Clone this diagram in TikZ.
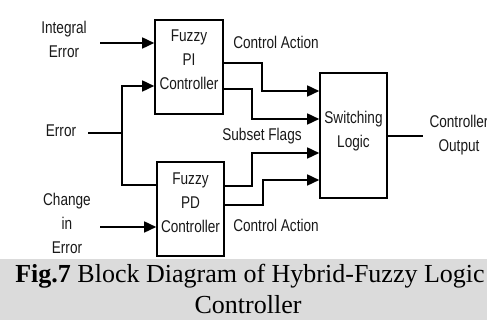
\documentclass[tikz,border=0pt]{standalone}
\usepackage{fontspec}
\setmainfont{Liberation Serif}
\newfontfamily\diagfont[FakeStretch=0.8]{Liberation Sans}
\usetikzlibrary{arrows.meta}

\begin{document}
\begin{tikzpicture}[
    x=1pt, y=-1pt,
    block/.style={rectangle, draw, line width=1.6pt, inner sep=0pt},
    txt/.style={font=\diagfont\fontsize{17}{24}\selectfont, align=center, text=black!90},
    captxt/.style={font=\fontsize{26}{32}\selectfont, anchor=base, inner sep=1pt},
    wire/.style={line width=1.6pt},
    arrow/.style={wire, -{Triangle[length=12pt, width=11pt]}}
]
\useasboundingbox (0,0) rectangle (487,320);
\fill[black!14] (0,259) rectangle (487,320);

% blocks
\node[block, minimum width=68pt, minimum height=94pt] (pi) at (189,67) {};
\node[block, minimum width=67pt, minimum height=94pt] (pd) at (190.5,209) {};
\node[block, minimum width=67pt, minimum height=125pt] (sw) at (353.5,135.5) {};
\node[txt] (pitxt) at (189,60) {Fuzzy\\PI\\Controller};
\node[txt] (pdtxt) at (190.5,203) {Fuzzy\\PD\\Controller};
\node[txt] (swtxt) at (353.5,131.5) {Switching\\Logic};

% inputs and output
\node[txt] (interr) at (64,39) {Integral\\Error};
\node[txt] (err) at (61,131) {Error};
\node[txt] (chg) at (67,223) {Change\\in\\Error};
\node[txt] (out) at (459,135.5) {Controller\\Output};

% signal names
\node[txt] (ca1) at (276,42) {Control Action};
\node[txt] (flags) at (262,136) {Subset Flags};
\node[txt] (ca2) at (276,225) {Control Action};

\coordinate (intin) at (100,43);
\coordinate (errin) at (88,133);
\coordinate (chgin) at (100,227);
\coordinate (split) at (122,133);
\coordinate (outend) at (423,136);

\draw[arrow] (intin) -- (intin -| pi.west);
\draw[wire] (errin) -- (split);
\draw[arrow] (split) |- (pi.west |- 0,86);
\draw[wire] (split) |- (pd.west |- 0,185);
\draw[arrow] (chgin) -- (chgin -| pd.west);

\draw[arrow] (pi.east |- 0,63) -| (262,91) -- (sw.west |- 0,91);
\draw[arrow] (pi.east |- 0,89) -| (252,119) -- (sw.west |- 0,119);
\draw[arrow] (pd.east |- 0,186) -| (252,153) -- (sw.west |- 0,153);
\draw[arrow] (pd.east |- 0,205) -| (263,180) -- (sw.west |- 0,180);
\draw[wire] (sw.east |- outend) -- (outend);

% caption
\node[captxt] (capa) at (250,283) {\textbf{Fig.7} Block Diagram of Hybrid-Fuzzy Logic};
\node[captxt] (capb) at (248,313) {Controller};
\end{tikzpicture}
\end{document}
